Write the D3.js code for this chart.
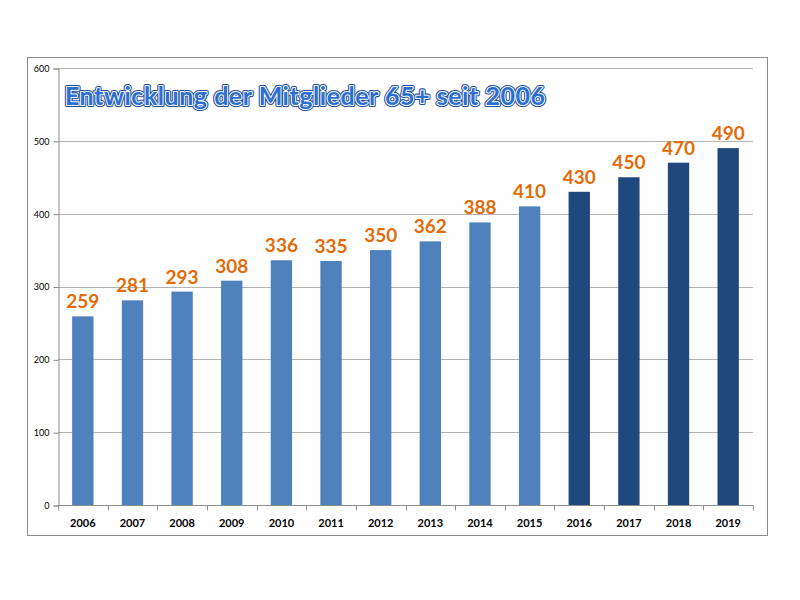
<!DOCTYPE html>
<html>
<head>
<meta charset="utf-8">
<title>Mitglieder 65+</title>
<script src="https://cdn.jsdelivr.net/npm/d3@7"></script>
<style>
  body { margin: 0; background: #fff; }
  svg { display: block; }
</style>
</head>
<body>
<script>
// data
const years = ["2006", "2007", "2008", "2009", "2010", "2011", "2012", "2013", "2014", "2015", "2016", "2017", "2018", "2019"];
const members = [259, 281, 293, 308, 336, 335, 350, 362, 388, 410, 430, 450, 470, 490];
const forecastFrom = "2016";
const yTicks = [0, 100, 200, 300, 400, 500, 600];
const titleText = "Entwicklung der Mitglieder 65+ seit 2006";

const width = 800, height = 600;
const plot = { left: 58, right: 753, top: 68, bottom: 505 };

const svg = d3.select("body").append("svg")
  .attr("width", width)
  .attr("height", height);

// outer chart frame
svg.append("rect")
  .attr("x", 27.5).attr("y", 57.5)
  .attr("width", 740).attr("height", 478)
  .attr("fill", "#fff")
  .attr("stroke", "#8c8c8c");

const x = d3.scaleBand()
  .domain(years)
  .range([plot.left, plot.right])
  .paddingInner(0.57)
  .paddingOuter(0.285);

const y = d3.scaleLinear()
  .domain([0, 600])
  .range([plot.bottom, plot.top]);

// gridlines
svg.append("g")
  .selectAll("line")
  .data(yTicks.filter(d => d > 0))
  .enter()
  .append("line")
  .attr("x1", plot.left)
  .attr("x2", plot.right)
  .attr("y1", d => Math.round(y(d)) + 0.5)
  .attr("y2", d => Math.round(y(d)) + 0.5)
  .attr("stroke", "#b3b3b3");

// y axis
const yAxis = svg.append("g")
  .attr("transform", "translate(" + (plot.left + 0.5) + ",0.5)")
  .call(d3.axisLeft(y).tickValues(yTicks).tickSize(5).tickPadding(4));
yAxis.select(".domain").attr("stroke", "#8c8c8c");
yAxis.selectAll(".tick line").attr("stroke", "#8c8c8c");
yAxis.selectAll("text")
  .attr("font-family", "Lato, 'Open Sans', sans-serif")
  .attr("font-size", "9px")
  .attr("fill", "#000");

// x axis with ticks at band edges
const xAxisG = svg.append("g")
  .attr("transform", "translate(0," + (plot.bottom + 0.5) + ")");
xAxisG.append("line")
  .attr("x1", plot.left).attr("x2", plot.right)
  .attr("stroke", "#8c8c8c");
const step = x.step();
xAxisG.selectAll("line.tick")
  .data(years.concat(["end"]))
  .enter()
  .append("line")
  .attr("class", "tick")
  .attr("x1", (d, i) => Math.round(plot.left + i * step) + 0.5)
  .attr("x2", (d, i) => Math.round(plot.left + i * step) + 0.5)
  .attr("y1", 0).attr("y2", 5)
  .attr("stroke", "#8c8c8c");
xAxisG.selectAll("text")
  .data(years)
  .enter()
  .append("text")
  .attr("x", d => x(d) + x.bandwidth() / 2)
  .attr("y", 21)
  .attr("text-anchor", "middle")
  .attr("font-family", "Lato, 'Open Sans', sans-serif")
  .attr("font-weight", "bold")
  .attr("font-size", "11px")
  .attr("fill", "#000")
  .text(d => d);

// bars
const rows = years.map((yr, i) => ({ year: yr, value: members[i] }));
svg.append("g")
  .selectAll("rect")
  .data(rows)
  .enter()
  .append("rect")
  .attr("x", d => x(d.year))
  .attr("y", d => y(d.value))
  .attr("width", x.bandwidth())
  .attr("height", d => y(0) - y(d.value))
  .attr("fill", d => +d.year >= +forecastFrom ? "#1f497d" : "#4f81bd");

// value labels
svg.append("g")
  .selectAll("text")
  .data(rows)
  .enter()
  .append("text")
  .attr("x", d => x(d.year) + x.bandwidth() / 2)
  .attr("y", d => y(d.value) - 8)
  .attr("text-anchor", "middle")
  .attr("font-family", "Lato, 'Open Sans', sans-serif")
  .attr("font-weight", "bold")
  .attr("font-size", "19px")
  .attr("fill", "#e36c09")
  .text(d => d.value);

// title: dark outline, white rim, blue fill
const title = svg.append("g");
[["#1f4e99", 4.2], ["#ffffff", 2]].forEach(function(s) {
  title.append("text")
    .attr("x", 65).attr("y", 105)
    .attr("font-family", "Lato, 'Open Sans', sans-serif")
    .attr("font-weight", "bold")
    .attr("font-size", "25px")
    .attr("textLength", 480)
    .attr("fill", "none")
    .attr("stroke", s[0])
    .attr("stroke-width", s[1])
    .attr("stroke-linejoin", "round")
    .text(titleText);
});
title.append("text")
  .attr("x", 65).attr("y", 105)
  .attr("font-family", "Lato, 'Open Sans', sans-serif")
  .attr("font-weight", "bold")
  .attr("font-size", "25px")
  .attr("textLength", 480)
  .attr("fill", "#2b6fd1")
  .text(titleText);
</script>
</body>
</html>
